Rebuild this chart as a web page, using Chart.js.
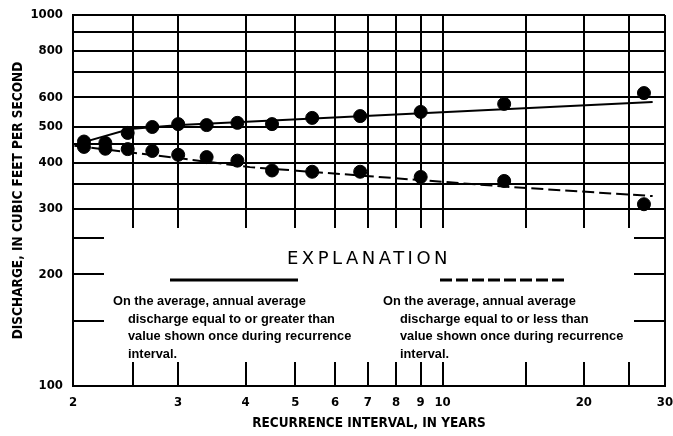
<!DOCTYPE html>
<html>
<head>
<meta charset="utf-8">
<script src="https://cdn.jsdelivr.net/npm/chart.js@4"></script>
<style>
  body { margin: 0; background: #fff; }
  #wrap { width: 673px; height: 436px; }
</style>
</head>
<body>
<div id="wrap"><canvas id="flowChart" width="673" height="436"></canvas></div>
<script>
//********************** Chart data *******************************************
// recurrence interval, years (same plotting positions for both series)
var intervals = [2.08, 2.25, 2.45, 2.7, 3, 3.38, 3.86, 4.5, 5.4, 6.75, 9, 13.5, 27];
// discharge equal to or greater than (cfs)
var highFlow = [456, 452, 481, 499, 508, 505, 512, 508, 528, 534, 548, 576, 616];
// discharge equal to or less than (cfs)
var lowFlow = [441, 436, 435, 430, 420, 414, 405, 381, 378, 378, 366, 357, 309];

// fitted curves drawn through the points
var highCurveT = [2.02, 2.47, 3.02, 28.2];
var highCurveQ = [448, 493, 505, 583];
var lowCurveT = [2.01, 2.98, 4.08, 13.9, 28.2];
var lowCurveQ = [444, 412, 389, 344, 325];

// grid and tick labels
var xGrid = [2, 2.5, 3, 4, 5, 6, 7, 8, 9, 10, 15, 20, 25, 30];
var xLabels = [2, 3, 4, 5, 6, 7, 8, 9, 10, 20, 30];
var yGrid = [100, 150, 200, 250, 300, 350, 400, 450, 500, 600, 700, 800, 900, 1000];
var yLabels = [100, 200, 300, 400, 500, 600, 800, 1000];

// extreme value (Gumbel) reduced variate for the probability paper
function gumbel(t) {
  return -Math.log(-Math.log(1 - 1 / t));
}

function pts(ts, qs) {
  return ts.map(function (t, i) { return { x: gumbel(t), y: qs[i] }; });
}

var narrow = '"DejaVu Sans Condensed", "Liberation Sans", sans-serif';

// white explanation panel over the lower part of the grid
var explanation = {
  id: 'explanation',
  beforeDatasetsDraw: function (chart) {
    var ctx = chart.ctx;
    var a = chart.chartArea;
    var y300 = chart.scales.y.getPixelForValue(300);
    ctx.save();
    ctx.fillStyle = '#fff';
    ctx.fillRect(a.left + 31, y300 + 19, a.right - a.left - 62, a.bottom - 24 - (y300 + 19));

    ctx.fillStyle = '#000';
    ctx.font = '18px "DejaVu Sans", sans-serif';
    ctx.letterSpacing = '3.5px';
    ctx.textAlign = 'center';
    ctx.fillText('EXPLANATION', 369, 264);
    ctx.letterSpacing = '0px';

    ctx.strokeStyle = '#000';
    ctx.lineWidth = 3;
    ctx.beginPath();
    ctx.moveTo(170, 280); ctx.lineTo(298, 280);
    ctx.stroke();
    ctx.setLineDash([12, 4]);
    ctx.beginPath();
    ctx.moveTo(440, 280); ctx.lineTo(567, 280);
    ctx.stroke();
    ctx.setLineDash([]);

    ctx.textAlign = 'left';
    ctx.font = 'bold 12.8px "Liberation Sans", Arial, sans-serif';
    var left = ['discharge equal to or greater than', 'value shown once during recurrence', 'interval.'];
    var right = ['discharge equal to or less than', 'value shown once during recurrence', 'interval.'];
    ctx.fillText('On the average, annual average', 113, 305);
    ctx.fillText('On the average, annual average', 383, 305);
    for (var i = 0; i < 3; i++) {
      ctx.fillText(left[i], 128, 322.5 + i * 17.5);
      ctx.fillText(right[i], 400, 322.5 + i * 17.5);
    }
    ctx.restore();
  }
};

var canvas = document.getElementById('flowChart');
var flowChart = new Chart(canvas, {
  type: 'scatter',
  data: {
    datasets: [
      { data: pts(intervals, highFlow), backgroundColor: '#000', borderColor: '#000', pointRadius: 6.5, showLine: false },
      { data: pts(intervals, lowFlow), backgroundColor: '#000', borderColor: '#000', pointRadius: 6.5, showLine: false },
      { data: pts(highCurveT, highCurveQ), borderColor: '#000', borderWidth: 2, pointRadius: 0, showLine: true },
      { data: pts(lowCurveT, lowCurveQ), borderColor: '#000', borderWidth: 2, borderDash: [12, 5], pointRadius: 0, showLine: true }
    ]
  },
  options: {
    responsive: false,
    animation: false,
    layout: { padding: { top: 15, right: 8, left: 0, bottom: 0 } },
    plugins: { legend: { display: false }, tooltip: { enabled: false } },
    scales: {
      x: {
        type: 'linear',
        min: gumbel(2),
        max: gumbel(30),
        afterBuildTicks: function (scale) {
          scale.ticks = xGrid.map(function (t) { return { value: gumbel(t) }; });
        },
        afterFit: function (scale) {
          scale.height = 50;
          scale.paddingLeft = 0;
          scale.paddingRight = 0;
        },
        ticks: {
          autoSkip: false,
          maxRotation: 0,
          padding: 9,
          color: '#000',
          font: { family: narrow, size: 13, weight: 'bold' },
          callback: function (v, i) {
            var t = xGrid[i];
            return xLabels.indexOf(t) >= 0 ? String(t) : '';
          }
        },
        grid: { color: '#000', lineWidth: 2, drawTicks: false },
        border: { color: '#000', width: 2 },
        title: {
          display: true,
          text: 'RECURRENCE INTERVAL, IN YEARS',
          color: '#000',
          padding: { top: 0, bottom: 4 },
          font: { family: narrow, size: 13.5, weight: 'bold' }
        }
      },
      y: {
        type: 'logarithmic',
        min: 100,
        max: 1000,
        afterBuildTicks: function (scale) {
          scale.ticks = yGrid.map(function (q) { return { value: q }; });
        },
        afterFit: function (scale) {
          scale.width = 73;
          scale.paddingTop = 0;
          scale.paddingBottom = 0;
        },
        ticks: {
          autoSkip: false,
          padding: 10,
          color: '#000',
          font: { family: narrow, size: 13, weight: 'bold' },
          callback: function (v) {
            return yLabels.indexOf(v) >= 0 ? String(v) : '';
          }
        },
        grid: { color: '#000', lineWidth: 2, drawTicks: false },
        border: { color: '#000', width: 2 },
        title: {
          display: true,
          text: 'DISCHARGE, IN CUBIC FEET PER SECOND',
          color: '#000',
          padding: { top: 10, bottom: 0 },
          font: { family: narrow, size: 13.5, weight: 'bold' }
        }
      }
    }
  },
  plugins: [explanation]
});
</script>
</body>
</html>
